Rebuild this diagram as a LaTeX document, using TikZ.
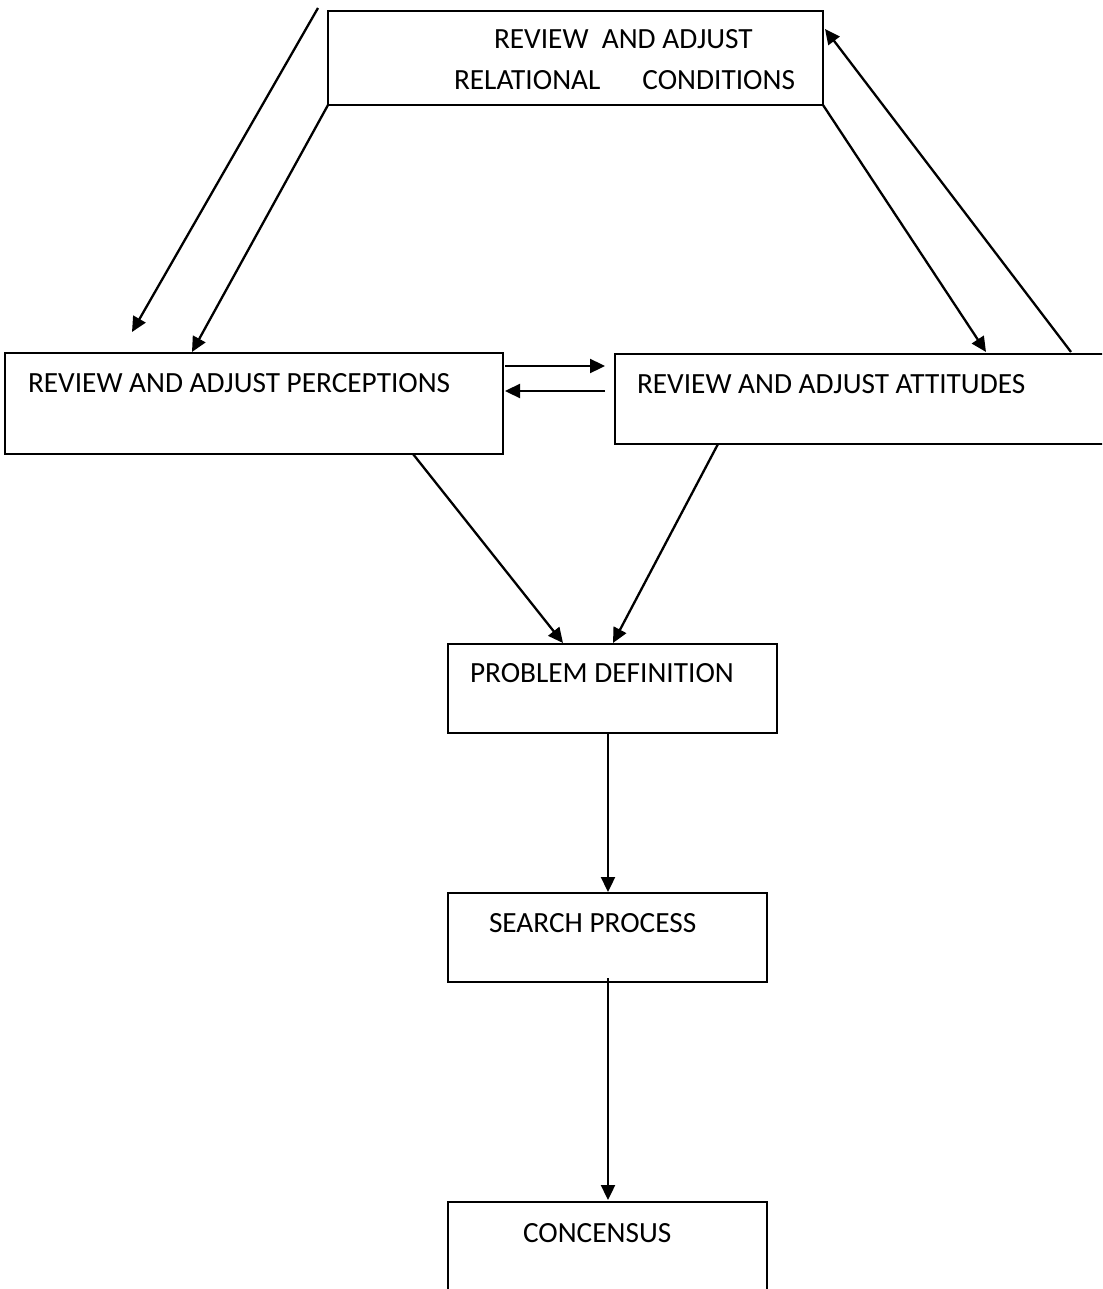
\documentclass[tikz,border=0pt]{standalone}
\usepackage{fontspec}
\setmainfont{Carlito}
\usetikzlibrary{arrows.meta}
\begin{document}
\begin{tikzpicture}[x=1pt,y=-1pt,
  box/.style={draw,line width=2pt,rectangle,inner sep=0pt,outer sep=0pt,anchor=north west},
  lbl/.style={anchor=base west,inner sep=0pt,outer sep=0pt,font=\fontsize{29.3}{35}\selectfont},
  arr/.style={line width=2.3pt,-{Triangle[length=15pt,width=14pt]}}]
\useasboundingbox (0,0) rectangle (1102,1289);
\clip (0,0) rectangle (1102,1289);
% boxes
\node[box,minimum width=495pt,minimum height=94pt] (top) at (328,11) {};
\node[box,minimum width=498pt,minimum height=101pt] (perc) at (5,353) {};
\node[box,minimum width=490pt,minimum height=90pt] (att) at (615,354) {};
\node[box,minimum width=329pt,minimum height=89pt] (prob) at (448,644) {};
\node[box,minimum width=319pt,minimum height=89pt] (search) at (448,893) {};
\node[box,minimum width=319pt,minimum height=130pt] (cons) at (448,1202) {};
% labels
\node[lbl] (t1) at (494,49) {REVIEW\ \ AND ADJUST};
\node[lbl] (t2) at (454,90) {RELATIONAL\hspace{42pt}CONDITIONS};
\node[lbl] (tp) at (28,392) {REVIEW AND ADJUST PERCEPTIONS};
\node[lbl] (ta) at (637,393) {REVIEW AND ADJUST ATTITUDES};
\node[lbl] (tpd) at (470,682) {PROBLEM DEFINITION};
\node[lbl] (ts) at (489,932) {SEARCH PROCESS};
\node[lbl] (tc) at (523,1242) {CONCENSUS};
% connector end points
\coordinate (f0) at (318,8);
\coordinate (f1) at (132,332);
\coordinate (p1) at (192,352);
\coordinate (a1) at (986,352);
\coordinate (a2) at (1071,352);
\coordinate (r1) at (825,29);
\coordinate (pr1) at (505,366);
\coordinate (al1) at (605,366);
\coordinate (al2) at (605,391);
\coordinate (pr2) at (505,391);
\coordinate (pb) at (413,454);
\coordinate (ab) at (718,444);
\coordinate (q1) at (563,643);
\coordinate (q2) at (613,643);
\coordinate (qb) at (608,733);
\coordinate (st) at (608,892);
\coordinate (sb) at (608,978);
\coordinate (ct) at (608,1200);
% connectors
\draw[arr] (f0) -- (f1);
\draw[arr] (top.south west) -- (p1);
\draw[arr] (top.south east) -- (a1);
\draw[arr] (a2) -- (r1);
\draw[arr] (pr1) -- (al1);
\draw[arr] (al2) -- (pr2);
\draw[arr] (pb) -- (q1);
\draw[arr] (ab) -- (q2);
\draw[arr] (qb) -- (st);
\draw[arr] (sb) -- (ct);
\end{tikzpicture}
\end{document}
